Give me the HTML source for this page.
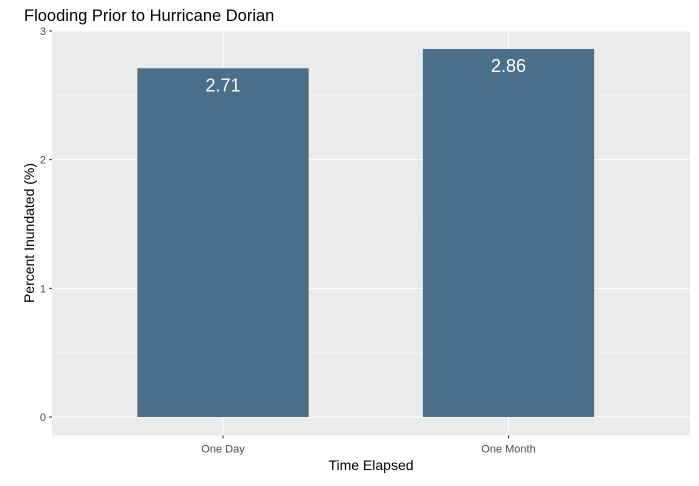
<!DOCTYPE html>
<html><head><meta charset="utf-8"><style>
body{margin:0;background:#fff;font-family:"Liberation Sans",sans-serif}
</style></head><body>
<svg width="699" height="481" viewBox="0 0 699 481" id="chart"></svg>
<script>
const categories = ["One Day", "One Month"];
const values = [2.71, 2.86];
const yTicks = [0, 1, 2, 3];
const yMinor = [0.5, 1.5, 2.5];

const svg = document.getElementById('chart');
const NS = 'http://www.w3.org/2000/svg';
const pL = 52, pR = 690, pT = 30.6, pB = 435.4;
const yMin = -0.143, yMax = 3.003;
function y(v){ return pB - (v - yMin) / (yMax - yMin) * (pB - pT); }
const unit = 285.5;
const x0 = 223;
function x(i){ return x0 + i * unit; }

function mk(tag, attrs, parent){
  const e = document.createElementNS(NS, tag);
  for (const k in attrs) e.setAttribute(k, attrs[k]);
  (parent || svg).appendChild(e);
  return e;
}
const panel = mk('rect', {x:pL, y:pT, width:pR-pL, height:pB-pT, fill:'#ebebeb'});



yMinor.forEach(v => {
  const l = mk('line', {x1:pL, x2:pR, y1:y(v), y2:y(v), stroke:'#f5f5f5', 'stroke-width':0.6});
  
  
});
yTicks.forEach(v => {
  const l = mk('line', {x1:pL, x2:pR, y1:y(v), y2:y(v), stroke:'#fff', 'stroke-width':1.1});
  
  
  const t = mk('line', {x1:pL-3, x2:pL, y1:y(v), y2:y(v), stroke:'#333', 'stroke-width':1});
  
  
  const tx = mk('text', {x:pL-6, y:y(v)+4, 'text-anchor':'end', 'font-size':11, fill:'#4d4d4d'});
  tx.textContent = v;
  
  
});
categories.forEach((c, i) => {
  const cx = x(i);
  const g = mk('line', {x1:cx, x2:cx, y1:pT, y2:pB, stroke:'#fff', 'stroke-width':1.1});
  
  
});
categories.forEach((c, i) => {
  const cx = x(i), w = unit * 0.6;
  const b = mk('rect', {x:cx - w/2, y:y(values[i]), width:w, height:y(0) - y(values[i]), fill:'#4a6f8a'});
  
  
  const lbl = mk('text', {x:cx, y:y(values[i]) + 23, 'text-anchor':'middle', 'font-size':18, fill:'#fff'});
  lbl.textContent = values[i].toFixed(2);
  
  
  const t = mk('line', {x1:cx, x2:cx, y1:pB, y2:pB+3, stroke:'#333', 'stroke-width':1});
  
  
  const tx = mk('text', {x:cx, y:pB+17, 'text-anchor':'middle', 'font-size':11, fill:'#4d4d4d'});
  tx.textContent = c;
  
  
});
const title = mk('text', {x:24, y:21, 'font-size':16.5, fill:'#000'});
title.textContent = 'Flooding Prior to Hurricane Dorian';


const xt = mk('text', {x:(pL+pR)/2, y:470, 'text-anchor':'middle', 'font-size':14, fill:'#000'});
xt.textContent = 'Time Elapsed';


const yt = mk('text', {x:0, y:0, 'text-anchor':'middle', 'font-size':14, fill:'#000', transform:'translate(34,' + ((pT+pB)/2) + ') rotate(-90)'});
yt.textContent = 'Percent Inundated (%)';


</script>
</body></html>
